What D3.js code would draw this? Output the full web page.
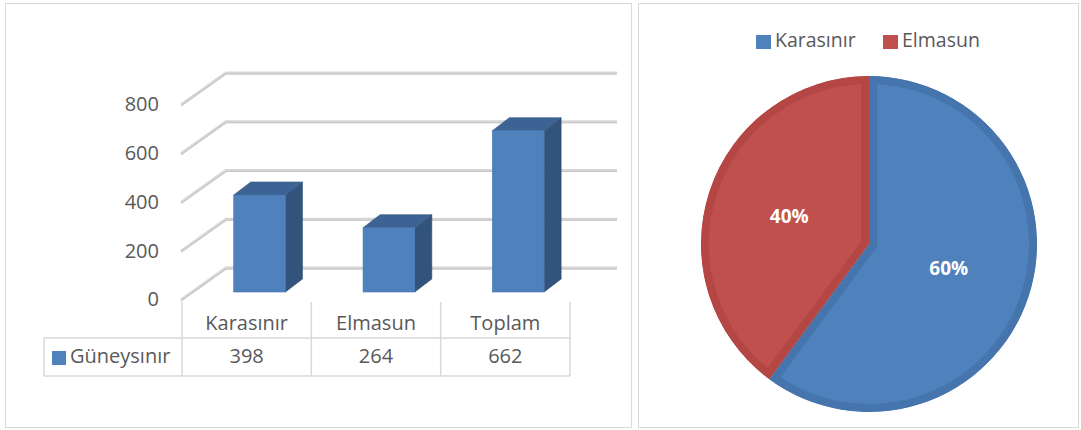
<!DOCTYPE html>
<html>
<head>
<meta charset="utf-8">
<script src="https://cdn.jsdelivr.net/npm/d3@7/dist/d3.min.js"></script>
<style>
  body { margin: 0; background: #fff; }
  svg { display: block; font-family: "Open Sans", "Liberation Sans", sans-serif; }
  .lbl { fill: #595959; }
</style>
</head>
<body>
<svg id="chart" width="1081" height="430"></svg>
<script>
// chart data
var categories = ["Karasınır", "Elmasun", "Toplam"];
var seriesName = "Güneysınır";
var values = [398, 264, 662];
var yTicks = [0, 200, 400, 600, 800];
var pieNames = ["Karasınır", "Elmasun"];
var pieValues = [398, 264];

var blue = "#4f81bd", red = "#c0504d";
var svg = d3.select("#chart");

// panel frames
svg.append("rect").attr("x", 5.5).attr("y", 3.5).attr("width", 626).attr("height", 424)
    .attr("fill", "none").attr("stroke", "#d9d9d9");
svg.append("rect").attr("x", 638.5).attr("y", 3.5).attr("width", 440).attr("height", 424)
    .attr("fill", "none").attr("stroke", "#d9d9d9");

// ---------- 3D column chart ----------
var yBack = d3.scaleLinear().domain([0, 800]).range([268, 73]);
var depthX = 45, depthY = 32;   // floor depth (back wall -> front edge)
var wallLeft = 226, wallRight = 617;
var x = d3.scaleBand().domain(categories).range([182, 570]);
var yBar = d3.scaleLinear().domain([0, 800]).range([292, 97]);
var sideX = 17, sideY = -13;

var grid = svg.append("g").attr("class", "grid");
yTicks.forEach(function(t) {
    var yb = yBack(t);
    var pts = [[wallLeft - depthX, yb + depthY], [wallLeft, yb], [wallRight, yb]];
    grid.append("path").attr("d", d3.line()(pts)).attr("fill", "none")
        .attr("stroke", "#d6d6d6").attr("stroke-width", 3).attr("stroke-linejoin", "round");
    grid.append("path").attr("d", d3.line()(pts.map(function(p){ return [p[0], p[1] + 1]; })))
        .attr("fill", "none").attr("stroke", "#c6c6c6").attr("stroke-width", 1);
    svg.append("text").attr("class", "lbl").attr("x", 159).attr("y", yb + depthY + 1)
        .attr("text-anchor", "end").attr("dominant-baseline", "middle")
        .attr("font-size", 20).text(t);
});

var bars = svg.selectAll(".bar").data(values).enter().append("g").attr("class", "bar");
bars.each(function(v, i) {
    var g = d3.select(this);
    var x0 = x(categories[i]) + x.bandwidth() * 0.4;
    var w = x.bandwidth() * 0.4;
    var y0 = yBar(v), yb = yBar(0);
    // side
    g.append("path").attr("fill", "#31537c").attr("stroke", "#2c4b70").attr("stroke-width", 0.6)
        .attr("d", d3.line()([[x0 + w, y0], [x0 + w + sideX, y0 + sideY], [x0 + w + sideX, yb + sideY], [x0 + w, yb]]) + "Z");
    // top
    g.append("path").attr("fill", "#3c6393").attr("stroke", "#365a86").attr("stroke-width", 0.6)
        .attr("d", d3.line()([[x0, y0], [x0 + sideX, y0 + sideY], [x0 + w + sideX, y0 + sideY], [x0 + w, y0]]) + "Z");
    // front
    g.append("rect").attr("x", x0).attr("y", y0).attr("width", w).attr("height", yb - y0)
        .attr("fill", blue).attr("stroke", "#4675ad").attr("stroke-width", 0.6);
});

// data table under the columns
var table = svg.append("g").attr("class", "table");
var tTop = 302, rowTop = 338, rowBot = 376, tLeft = 44;
var edges = categories.map(function(c) { return x(c); }).concat([x.range()[1]]);
edges.forEach(function(ex) {
    table.append("line").attr("x1", ex).attr("x2", ex).attr("y1", tTop).attr("y2", rowBot)
        .attr("stroke", "#d9d9d9").attr("stroke-width", 1.5);
});
table.append("line").attr("x1", tLeft).attr("x2", tLeft).attr("y1", rowTop).attr("y2", rowBot)
    .attr("stroke", "#d9d9d9").attr("stroke-width", 1.5);
[rowTop, rowBot].forEach(function(ry) {
    table.append("line").attr("x1", tLeft).attr("x2", x.range()[1]).attr("y1", ry).attr("y2", ry)
        .attr("stroke", "#d9d9d9").attr("stroke-width", 1.5);
});
categories.forEach(function(c, i) {
    table.append("text").attr("class", "lbl").attr("x", x(c) + x.bandwidth() / 2).attr("y", 325)
        .attr("text-anchor", "middle").attr("dominant-baseline", "middle").attr("font-size", 20).text(c);
    table.append("text").attr("class", "lbl").attr("x", x(c) + x.bandwidth() / 2).attr("y", 358)
        .attr("text-anchor", "middle").attr("dominant-baseline", "middle").attr("font-size", 20).text(values[i]);
});
table.append("rect").attr("x", 52).attr("y", 351).attr("width", 14).attr("height", 14).attr("fill", blue);
table.append("text").attr("class", "lbl").attr("x", 70).attr("y", 358)
    .attr("dominant-baseline", "middle").attr("font-size", 20).text(seriesName);

// ---------- pie chart ----------
var cx = 869, cy = 244, r = 168;
var pieColors = [blue, red], rimColors = ["#4674ad", "#b44744"];
var pie = d3.pie().sort(null)(pieValues);
var arc = d3.arc().innerRadius(0).outerRadius(r);
var total = d3.sum(pieValues);
var pg = svg.append("g").attr("transform", "translate(" + cx + "," + cy + ")");
var defs = svg.append("defs");
pie.forEach(function(d, i) {
    defs.append("clipPath").attr("id", "slice" + i).append("path").attr("d", arc(d));
    pg.append("path").attr("d", arc(d)).attr("fill", pieColors[i])
        .attr("stroke", rimColors[i]).attr("stroke-width", 16)
        .attr("clip-path", "url(#slice" + i + ")");
});
pie.forEach(function(d, i) {
    var c = arc.centroid(d);
    pg.append("text").attr("x", c[0]).attr("y", c[1]).attr("text-anchor", "middle")
        .attr("dominant-baseline", "middle").attr("font-size", 19).attr("font-weight", "bold")
        .attr("fill", "#fff").text(Math.round(d.value / total * 100) + "%");
});

// pie legend
var legX = [756, 883];
pieNames.forEach(function(n, i) {
    svg.append("rect").attr("x", legX[i]).attr("y", 35).attr("width", 15).attr("height", 14).attr("fill", pieColors[i]);
    svg.append("text").attr("class", "lbl").attr("x", legX[i] + 19).attr("y", 42)
        .attr("dominant-baseline", "middle").attr("font-size", 19.5).text(n);
});
</script>
</body>
</html>
